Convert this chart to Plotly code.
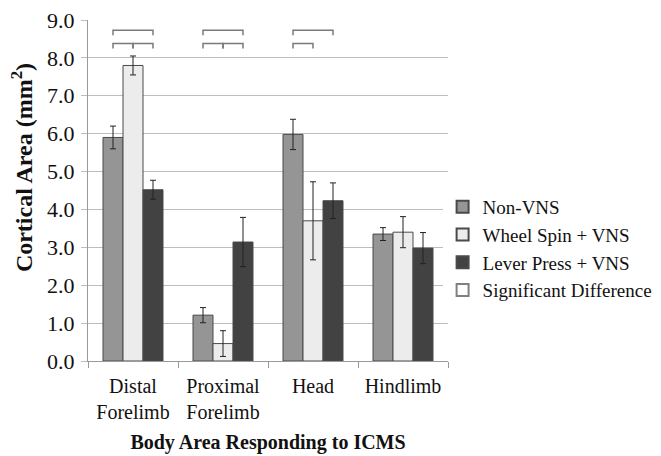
import plotly.graph_objects as go

categories = ["Distal<br>Forelimb", "Proximal<br>Forelimb", "Head", "Hindlimb"]
series_names = ["Non-VNS", "Wheel Spin + VNS", "Lever Press + VNS"]
non_vns = [5.9, 1.21, 5.98, 3.35]
non_vns_err = [0.3, 0.2, 0.4, 0.17]
wheel_vns = [7.8, 0.46, 3.70, 3.40]
wheel_vns_err = [0.25, 0.34, 1.03, 0.41]
lever_vns = [4.52, 3.14, 4.23, 2.98]
lever_vns_err = [0.25, 0.65, 0.47, 0.41]
y_ticks = [0, 1, 2, 3, 4, 5, 6, 7, 8, 9]
# significance brackets: (category index, from series, to series, level)
brackets = [
    (0, 0, 2, 8.73), (0, 0, 1, 8.38), (0, 1, 2, 8.38),
    (1, 0, 2, 8.73), (1, 0, 1, 8.38), (1, 1, 2, 8.38),
    (2, 0, 2, 8.73), (2, 0, 1, 8.38),
]

colors = ["#959595", "#ececec", "#424242"]
values = [non_vns, wheel_vns, lever_vns]
errors = [non_vns_err, wheel_vns_err, lever_vns_err]
FONT = "Liberation Serif"

fig = go.Figure()
for name, vals, errs, col in zip(series_names, values, errors, colors):
    fig.add_trace(go.Bar(
        x=categories, y=vals, name=name,
        marker=dict(color=col, line=dict(color="#4a4a4a", width=1)),
        error_y=dict(type="data", array=errs, color="#222222", thickness=1, width=3),
    ))

fig.add_trace(go.Scatter(
    x=[None], y=[None], mode="markers", name="Significant Difference",
    marker=dict(symbol="square-open", size=8, color="#808080", line=dict(width=1.2)),
))

bargap = 1 / 3
bw = (1 - bargap) / 3
for ci, s0, s1, lvl in brackets:
    x0 = ci + (s0 - 1) * bw
    x1 = ci + (s1 - 1) * bw
    fig.add_shape(type="path", xref="x", yref="y",
                  path=f"M {x0},{lvl - 0.13} L {x0},{lvl} L {x1},{lvl} L {x1},{lvl - 0.13}",
                  line=dict(color="#7a7a7a", width=1.5))

fig.add_annotation(text="<b>Cortical Area (mm<sup>2</sup>)</b>", textangle=-90,
                   xref="paper", yref="paper", x=-0.183, y=0.566, showarrow=False,
                   xanchor="center", yanchor="middle",
                   font=dict(family=FONT, size=24, color="#111111"))

fig.update_layout(
    width=661, height=456,
    margin=dict(l=80, r=221, t=12, b=103, autoexpand=False),
    barmode="group", bargap=bargap, bargroupgap=0,
    plot_bgcolor="white", paper_bgcolor="white",
    font=dict(family=FONT, size=19, color="#111111"),
    showlegend=True,
    legend=dict(x=0.985, y=0.33, xanchor="left", yanchor="middle",
                font=dict(family=FONT, size=19, color="#111111"),
                itemsizing="constant", tracegroupgap=0, itemwidth=30),
    xaxis=dict(
        automargin=False,
        showline=True, linecolor="#999999", linewidth=1,
        ticks="outside", tickson="boundaries", ticklen=6, tickcolor="#999999",
        tickfont=dict(family=FONT, size=20), tickangle=0, ticklabelstandoff=7,
        ticklabeloverflow="allow",
        title=dict(text="<b>Body Area Responding to ICMS</b>", standoff=12,
                   font=dict(family=FONT, size=20)),
    ),
    yaxis=dict(
        automargin=False,
        range=[0, 9], tickvals=y_ticks, tickformat=".1f",
        showgrid=True, gridcolor="#bdbdbd", gridwidth=1.3,
        showline=True, linecolor="#999999", linewidth=1,
        ticks="outside", ticklen=6, tickcolor="#bdbdbd", ticklabelstandoff=2,
        ticklabeloverflow="allow",
        tickfont=dict(family=FONT, size=22), zeroline=False,
    ),
)

fig.write_html("out.html")
